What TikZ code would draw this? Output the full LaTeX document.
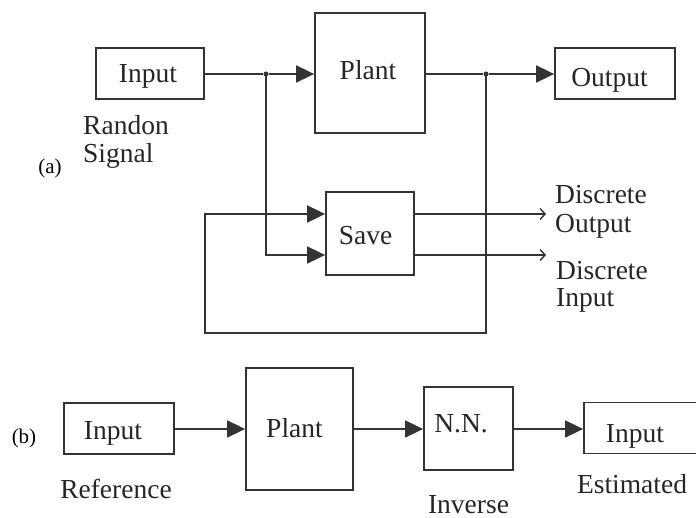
\documentclass[tikz,border=0pt]{standalone}
\usepackage{fontspec}
\setmainfont{Liberation Serif}
\usetikzlibrary{arrows.meta}
\begin{document}
\begin{tikzpicture}[x=1pt,y=-1pt,
  ln/.style={line width=1.8pt, draw=black!80},
  box/.style={ln, rectangle, inner sep=0pt, anchor=center},
  txt/.style={font=\fontsize{27.5}{29}\selectfont, text=black!85, inner sep=0pt, anchor=base},
  txtl/.style={txt, anchor=base west},
  tag/.style={font=\fontsize{21}{24}\selectfont, text=black, inner sep=0pt, anchor=base},
  arr/.style={ln, -{Triangle[length=18pt,width=17pt]}},
  oarr/.style={ln, line width=1.4pt, -{Straight Barb[length=5pt,width=11pt]}},
  jdot/.style={circle, fill=black!80, minimum size=5pt, inner sep=0pt}]
\useasboundingbox (0,0) rectangle (696,518);
\fill[white] (0,0) rectangle (696,518);
\clip (0,0) rectangle (696,518);

% ---------- (a) ----------
\node[box, minimum width=108pt, minimum height=51pt] (inA) at (150,73.5) {};
\node[box, minimum width=110pt, minimum height=120pt] (plantA) at (370,73) {};
\node[box, minimum width=120pt, minimum height=51pt] (outA) at (615,73.5) {};
\node[box, minimum width=88pt, minimum height=83pt] (save) at (370,233.5) {};

\node[txt] (inAt) at (148,83) {Input};
\node[txt] (plantAt) at (368,80) {Plant};
\node[txt] (outAt) at (609.5,87) {Output};
\node[txt] (savet) at (365.5,245) {Save};

\node[txtl] (rand1) at (83,135) {Randon};
\node[txtl] (rand2) at (83,163) {Signal};
\node[tag] (taga) at (50,174) {(a)};

\node[txtl] (do1) at (555,204) {Discrete};
\node[txtl] (do2) at (555,233) {Output};
\node[txtl] (di1) at (556,280) {Discrete};
\node[txtl] (di2) at (556,307) {Input};

\node[jdot] (j1) at (266,74) {};
\node[jdot] (j2) at (486,74) {};
\coordinate (fb1) at (486,333);
\coordinate (fb2) at (205,333);
\coordinate (fb3) at (205,214);
\coordinate (s2) at (266,255);
\coordinate (o1) at (546,214);
\coordinate (o2) at (546,255);

\draw[ln] (inA.east |- j1) -- (j1);
\draw[arr] (j1) -- (j1 -| plantA.west);
\draw[ln] (plantA.east |- j2) -- (j2);
\draw[arr] (j2) -- (j2 -| outA.west);
\draw[arr] (j2.center) -- (fb1) -- (fb2) -- (fb3) -- (fb3 -| save.west);
\draw[arr] (j1.center) -- (s2) -- (s2 -| save.west);
\draw[oarr] (o1 -| save.east) -- (o1);
\draw[oarr] (o2 -| save.east) -- (o2);

% ---------- (b) ----------
\node[box, minimum width=110pt, minimum height=51pt] (inB) at (119,428.5) {};
\node[box, minimum width=107pt, minimum height=122pt] (plantB) at (299.5,429) {};
\node[box, minimum width=89pt, minimum height=83pt] (nn) at (468.5,428.5) {};
\node[box, minimum width=180pt, minimum height=51pt] (outB) at (674,428) {};

\node[txt] (inBt) at (113,439) {Input};
\node[txt] (plantBt) at (294.5,437) {Plant};
\node[txt] (nnt) at (461,432) {N.N.};
\node[txt] (outBt) at (635,442) {Input};

\node[txt] (ref) at (116,498) {Reference};
\node[txt] (inv) at (468.5,513) {Inverse};
\node[txt] (est) at (632,493) {Estimated};
\node[tag] (tagb) at (24,443) {(b)};

\coordinate (rb) at (0,429);
\draw[arr] (inB.east |- rb) -- (plantB.west |- rb);
\draw[arr] (plantB.east |- rb) -- (nn.west |- rb);
\draw[arr] (nn.east |- rb) -- (outB.west |- rb);
\end{tikzpicture}
\end{document}
